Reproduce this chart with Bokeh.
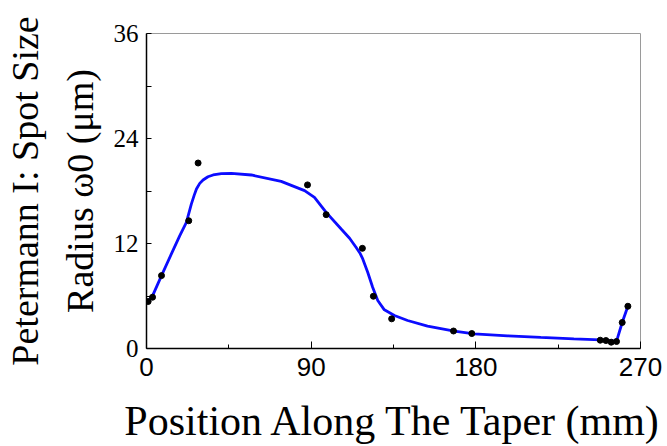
from bokeh.plotting import figure
from bokeh.models import FixedTicker, Range1d
from bokeh.embed import file_html
from bokeh.resources import INLINE

# Measured points
pos_mm = [0.9, 3.3, 8.2, 23.1, 28.2, 88.0, 98.2, 118.0, 124.0, 134.0,
          167.8, 177.8, 248.0, 251.1, 254.0, 256.9, 260.0, 263.1]
radius_um = [5.37, 5.86, 8.33, 14.6, 21.2, 18.7, 15.3, 11.45, 5.97, 3.39,
             2.0, 1.71, 0.95, 0.91, 0.72, 0.8, 2.97, 4.83]

# Fitted curve
fit_x = [0.9, 3.6, 8.2, 13.6, 18.2, 21.8, 24.5, 26.0, 27.3, 29.1, 30.9, 33.6,
         36.4, 40.9, 46.4, 57.3, 73.6, 86.4, 91.8, 98.2, 106.4, 111.0, 114.5,
         116.8, 118.2, 120.9, 123.6, 126.4, 130.0, 135.5, 142.7, 153.6, 168.2,
         179.1, 197.3, 215.5, 233.6, 248.2, 255.5, 257.3, 260.0, 263.1]
fit_y = [5.29, 6.16, 8.33, 10.81, 12.9, 14.42, 16.5, 17.47, 18.23, 18.87, 19.26,
         19.63, 19.83, 19.98, 20.01, 19.83, 19.1, 18.04, 17.27, 15.56, 13.66,
         12.6, 11.57, 10.85, 10.24, 8.71, 7.0, 5.48, 4.42, 3.77, 3.2, 2.55, 1.98,
         1.67, 1.45, 1.26, 1.1, 0.99, 0.83, 1.1, 2.97, 4.83]

x_ticks = [0, 90, 180, 270]
x_minor = [45, 135, 225]
y_ticks = [0, 12, 24, 36]
y_minor = [6, 18, 30]

p = figure(width=667, height=446, output_backend="svg", toolbar_location=None,
           x_range=Range1d(0, 270), y_range=Range1d(0, 36),
           min_border_left=145, min_border_right=27, min_border_top=33,
           min_border_bottom=98)
p.grid.visible = False
p.outline_line_color = "#9a9a9a"
p.outline_line_width = 1

p.line(fit_x, fit_y, line_color="#0c0cff", line_width=2.8)
p.scatter(pos_mm, radius_um, size=6, fill_color="black", line_color="black")

xa = p.xaxis[0]
xa.ticker = FixedTicker(ticks=x_ticks, minor_ticks=x_minor)
xa.axis_label = "Position Along The Taper (mm)"
xa.axis_label_text_font = "Liberation Serif"
xa.axis_label_text_font_size = "42px"
xa.axis_label_text_font_style = "normal"
xa.axis_label_text_color = "black"
xa.axis_label_standoff = 19
xa.major_label_text_font = "Liberation Sans"
xa.major_label_text_font_size = "26px"
xa.major_label_text_color = "black"
xa.major_label_standoff = 9
xa.major_tick_in = 7
xa.major_tick_out = 0
xa.minor_tick_in = 4
xa.minor_tick_out = 0
xa.axis_line_width = 1.5
xa.axis_line_color = "black"
xa.major_tick_line_color = "black"
xa.minor_tick_line_color = "black"

ya = p.yaxis[0]
ya.ticker = FixedTicker(ticks=y_ticks, minor_ticks=y_minor)
ya.axis_label = "Petermann I: Spot Size\nRadius \u03c90 (\u03bcm)"
ya.axis_label_text_font = "Liberation Serif"
ya.axis_label_text_font_size = "38px"
ya.axis_label_text_font_style = "normal"
ya.axis_label_text_color = "black"
ya.axis_label_text_line_height = 1.3
ya.axis_label_standoff = 10
ya.major_label_text_font = "Liberation Serif"
ya.major_label_text_font_size = "25px"
ya.major_label_text_color = "black"
ya.major_label_standoff = 8
ya.major_label_orientation = "horizontal"
ya.major_tick_in = 5
ya.major_tick_out = 0
ya.minor_tick_in = 5
ya.minor_tick_out = 0
ya.axis_line_width = 1.5
ya.axis_line_color = "black"
ya.major_tick_line_color = "black"
ya.minor_tick_line_color = "black"

open("out.html", "w").write(file_html(p, INLINE))
